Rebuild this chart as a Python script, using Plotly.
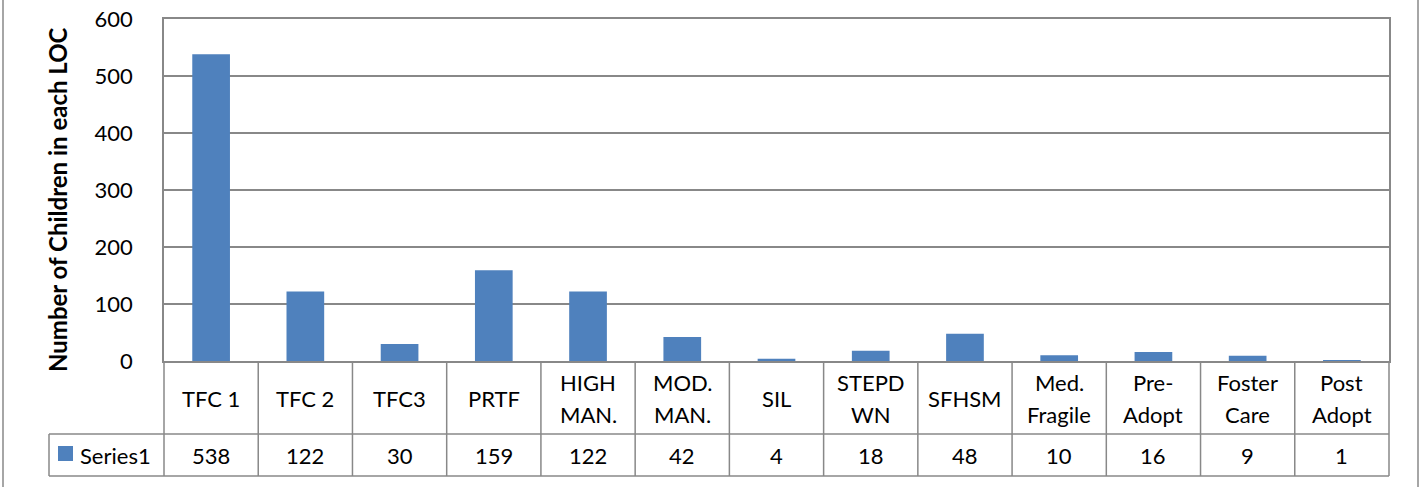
import plotly.graph_objects as go

categories = ["TFC 1", "TFC 2", "TFC3", "PRTF", "HIGH<br>MAN.", "MOD.<br>MAN.", "SIL",
              "STEPD<br>WN", "SFHSM", "Med.<br>Fragile", "Pre-<br>Adopt", "Foster<br>Care", "Post<br>Adopt"]
values = [538, 122, 30, 159, 122, 42, 4, 18, 48, 10, 16, 9, 1]
series_name = "Series1"
y_title = "Number of Children in each LOC"
y_ticks = [0, 100, 200, 300, 400, 500, 600]

W, H = 1420, 487
L, R, T, B = 164, 31, 19, 126
PW, PH = W - L - R, H - T - B
FONT = "Lato"
GRAY = "#888888"
BLUE = "#4F81BD"
TXT = 22


def px2x(px):
    return (px - L) / PW


def py2y(py):
    return (H - B - py) / PH


n = len(categories)
fig = go.Figure()
fig.add_trace(go.Bar(x=list(range(n)), y=values, marker=dict(color=BLUE, line=dict(width=0)),
                     name=series_name, showlegend=False))

shapes = []
# table horizontal lines
for py in (434, 476):
    shapes.append(dict(type="line", xref="paper", yref="paper", x0=px2x(49), x1=1,
                       y0=py2y(py), y1=py2y(py), line=dict(color=GRAY, width=1.5)))
# category boundaries
for i in range(n + 1):
    xp = i / n
    shapes.append(dict(type="line", xref="paper", yref="paper", x0=xp, x1=xp,
                       y0=0, y1=py2y(476), line=dict(color=GRAY, width=1.5)))
# legend cell left edge
shapes.append(dict(type="line", xref="paper", yref="paper", x0=px2x(49), x1=px2x(49),
                   y0=py2y(434), y1=py2y(476), line=dict(color=GRAY, width=1.5)))
# legend key
shapes.append(dict(type="rect", xref="paper", yref="paper", x0=px2x(58), x1=px2x(73),
                   y0=py2y(446), y1=py2y(461), fillcolor=BLUE, line=dict(width=0)))
# outer chart border
for px in (3, 1418):
    shapes.append(dict(type="line", xref="paper", yref="paper", x0=px2x(px), x1=px2x(px),
                       y0=py2y(-5), y1=py2y(492), line=dict(color=GRAY, width=1.5)))

annotations = []
for i, (c, v) in enumerate(zip(categories, values)):
    lines = c.split("<br>")
    if len(lines) == 1:
        ys = [398]
    else:
        ys = [382, 414]
    for ln, yy in zip(lines, ys):
        annotations.append(dict(x=i, y=py2y(yy), xref="x", yref="paper", text=ln, showarrow=False,
                                xanchor="center", yanchor="middle",
                                font=dict(family=FONT, size=TXT, color="black")))
    annotations.append(dict(x=i, y=py2y(455), xref="x", yref="paper", text=str(v), showarrow=False,
                            xanchor="center", yanchor="middle",
                            font=dict(family=FONT, size=TXT, color="black")))
annotations.append(dict(x=px2x(78), y=py2y(455), xref="paper", yref="paper", text=series_name,
                        showarrow=False, xanchor="left", yanchor="middle",
                        font=dict(family=FONT, size=TXT, color="black")))
annotations.append(dict(x=px2x(58), y=py2y(200), xref="paper", yref="paper",
                        text="<b>" + y_title + "</b>", textangle=-90, showarrow=False,
                        xanchor="center", yanchor="middle",
                        font=dict(family=FONT, size=24, color="black")))

fig.update_layout(
    width=W, height=H, autosize=False,
    margin=dict(l=L, r=R, t=T, b=B, pad=0),
    paper_bgcolor="white", plot_bgcolor="white",
    bargap=0.6,
    shapes=shapes, annotations=annotations,
    xaxis=dict(range=[-0.5, n - 0.5], showticklabels=False, ticks="", showgrid=False,
               showline=True, linecolor=GRAY, linewidth=1.5, mirror=True, zeroline=False,
               automargin=False),
    yaxis=dict(range=[0, 600], tickvals=y_ticks, showgrid=True, gridcolor=GRAY, gridwidth=1.5,
               showline=True, linecolor=GRAY, linewidth=1.5, mirror=True, zeroline=False,
               ticks="", ticklabelstandoff=25, automargin=False,
               tickfont=dict(family=FONT, size=TXT, color="black")),
)

fig.write_html("out.html", post_script="document.body.style.margin='0';",
               config={"displayModeBar": False})
